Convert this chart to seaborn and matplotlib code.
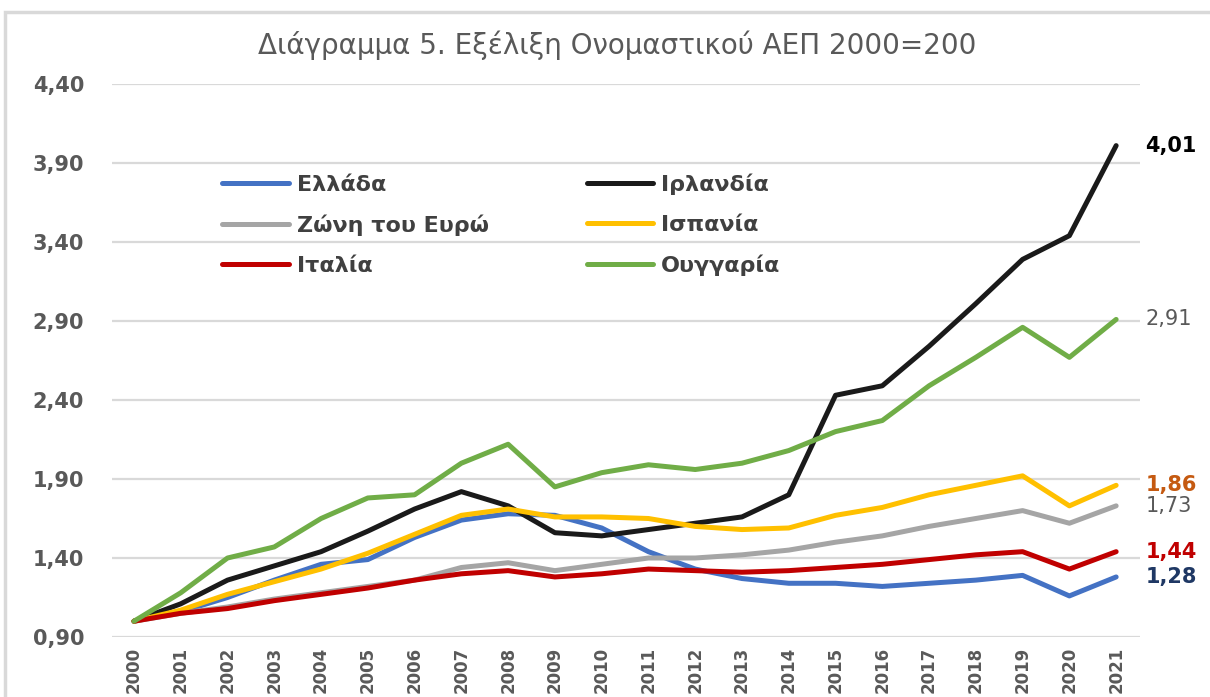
import pandas as pd
import matplotlib.pyplot as plt
import seaborn as sns
from matplotlib.patches import Rectangle

# --- data ---
years = list(range(2000, 2022))

greece = [1.00, 1.06, 1.15, 1.26, 1.36, 1.39, 1.53, 1.64, 1.68, 1.67, 1.59, 1.44,
          1.33, 1.27, 1.24, 1.24, 1.22, 1.24, 1.26, 1.29, 1.16, 1.28]
ireland = [1.00, 1.11, 1.26, 1.35, 1.44, 1.57, 1.71, 1.82, 1.73, 1.56, 1.54, 1.58,
           1.62, 1.66, 1.80, 2.43, 2.49, 2.74, 3.01, 3.29, 3.44, 4.01]
euro_area = [1.00, 1.05, 1.09, 1.14, 1.18, 1.22, 1.26, 1.34, 1.37, 1.32, 1.36, 1.40,
             1.40, 1.42, 1.45, 1.50, 1.54, 1.60, 1.65, 1.70, 1.62, 1.73]
spain = [1.00, 1.07, 1.17, 1.25, 1.33, 1.43, 1.55, 1.67, 1.71, 1.66, 1.66, 1.65,
         1.60, 1.58, 1.59, 1.67, 1.72, 1.80, 1.86, 1.92, 1.73, 1.86]
italy = [1.00, 1.05, 1.08, 1.13, 1.17, 1.21, 1.26, 1.30, 1.32, 1.28, 1.30, 1.33,
         1.32, 1.31, 1.32, 1.34, 1.36, 1.39, 1.42, 1.44, 1.33, 1.44]
hungary = [1.00, 1.18, 1.40, 1.47, 1.65, 1.78, 1.80, 2.00, 2.12, 1.85, 1.94, 1.99,
           1.96, 2.00, 2.08, 2.20, 2.27, 2.49, 2.67, 2.86, 2.67, 2.91]

series_names = ['Ελλάδα', 'Ιρλανδία', 'Ζώνη του Ευρώ', 'Ισπανία', 'Ιταλία', 'Ουγγαρία']
series_values = [greece, ireland, euro_area, spain, italy, hungary]
colors = ['#4472C4', '#1A1A1A', '#A5A5A5', '#FFC000', '#C00000', '#70AD47']

end_labels = ['1,28', '4,01', '1,73', '1,86', '1,44', '2,91']
end_label_colors = ['#1F3864', '#000000', '#595959', '#C55A11', '#C00000', '#595959']
end_label_bold = [True, True, False, True, True, False]

y_ticks = [0.90, 1.40, 1.90, 2.40, 2.90, 3.40, 3.90, 4.40]

title = 'Διάγραμμα 5. Εξέλιξη Ονομαστικού ΑΕΠ 2000=200'

# long table for seaborn
rows = []
for name, vals in zip(series_names, series_values):
    for yr, v in zip(years, vals):
        rows.append({'year': yr, 'value': v, 'series': name})
df = pd.DataFrame(rows)

sns.set_theme(style='white')
plt.rcParams['font.family'] = ['DejaVu Sans']

fig = plt.figure(figsize=(12.10, 6.97), dpi=100)
ax = fig.add_axes([112 / 1210, 1 - 637 / 697, (1140 - 112) / 1210, (637 - 84) / 697])

sns.lineplot(data=df, x='year', y='value', hue='series', hue_order=series_names,
             palette=colors, linewidth=3.6, ax=ax, legend=True)

ax.set_xlim(1999.53, 2021.51)
ax.set_ylim(0.90, 4.40)
ax.set_yticks(y_ticks)
ax.set_yticklabels([f'{t:.2f}'.replace('.', ',') for t in y_ticks],
                   fontsize=15, fontweight='bold', color='#595959')
ax.set_xticks(years)
ax.set_xticklabels([str(y) for y in years], rotation=90, fontsize=12,
                   fontweight='bold', color='#595959')
ax.tick_params(axis='y', length=0, pad=20)
ax.tick_params(axis='x', length=0, pad=7)
ax.set_xlabel('')
ax.set_ylabel('')
ax.grid(axis='y', color='#D9D9D9', linewidth=1.6)
ax.set_axisbelow(True)
for s in ax.spines.values():
    s.set_visible(False)

# legend: rows Ελλάδα/Ιρλανδία, Ζώνη/Ισπανία, Ιταλία/Ουγγαρία
handles, labels = ax.get_legend_handles_labels()
order = [0, 2, 4, 1, 3, 5]
leg = ax.legend([handles[i] for i in order], [labels[i] for i in order],
                ncol=2, loc='upper left', bbox_to_anchor=(0.088, 0.874),
                frameon=False, handlelength=3.0, handletextpad=0.35,
                columnspacing=4.4, labelspacing=0.88,
                prop={'size': 16, 'weight': 'bold'})
for t in leg.get_texts():
    t.set_color('#404040')
for ln in leg.get_lines():
    ln.set_linewidth(3.6)

# values at the end of each line
for vals, lab, col, bold in zip(series_values, end_labels, end_label_colors, end_label_bold):
    ax.annotate(lab, xy=(years[-1], vals[-1]), xytext=(21, 0), textcoords='offset points',
                va='center', ha='left', fontsize=15, color=col,
                fontweight='bold' if bold else 'normal', annotation_clip=False)

fig.text(0.51, 0.935, title, ha='center', va='center', fontsize=20,
         color='#595959')

# chart frame
fig.patches.append(Rectangle((5 / 1210, -0.1), 1.2, 1.1 - 12 / 697,
                             transform=fig.transFigure, fill=False,
                             edgecolor='#D9D9D9', linewidth=2.5))

fig.savefig('out.png', dpi=100)
